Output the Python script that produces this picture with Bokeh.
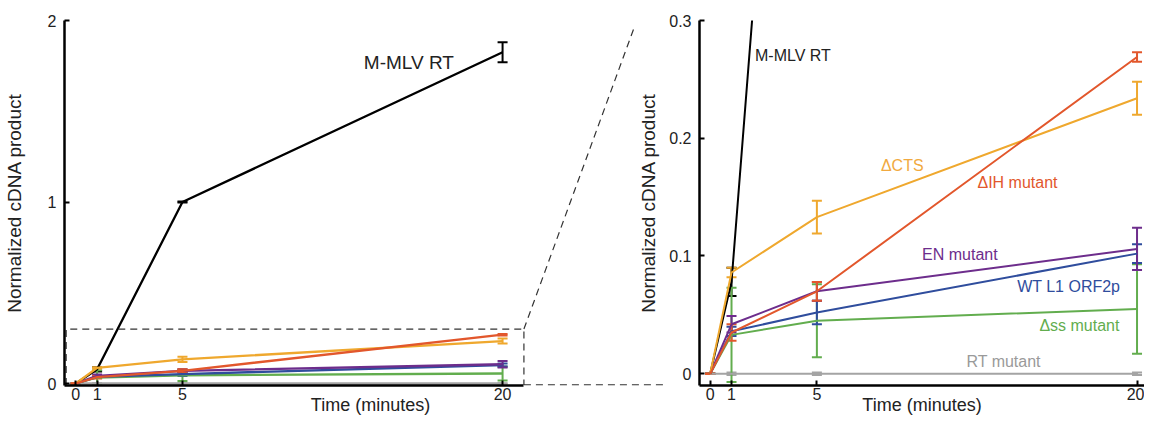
from bokeh.plotting import figure
from bokeh.layouts import row
from bokeh.models import ColumnDataSource, Whisker, TeeHead, FixedTicker, Range1d
from bokeh.embed import file_html
from bokeh.resources import INLINE
from bokeh.core.properties import value

# ---------------- data ----------------
TIME = [0, 1, 5, 20]
TIME_TICKS = [0, 1, 5, 20]
LEFT_Y_TICKS = [0, 1, 2]
LEFT_Y_LABELS = ["0", "1", "2"]
RIGHT_Y_TICKS = [0, 0.1, 0.2, 0.3]
RIGHT_Y_LABELS = ["0", "0.1", "0.2", "0.3"]

SERIES = ["RT mutant", "M-MLV RT", "\u0394ss mutant", "WT L1 ORF2p",
          "EN mutant", "\u0394CTS", "\u0394IH mutant"]

RT_MEAN = [0.0, 0.0, 0.0, 0.0]
RT_ERR = [0.0, 0.001, 0.001, 0.001]
MMLV_MEAN = [0.0, 0.078, 1.0, 1.825]
MMLV_ERR = [0.0, 0.012, 0.003, 0.055]
SS_MEAN = [0.0, 0.033, 0.045, 0.055]
SS_ERR = [0.0, 0.040, 0.031, 0.038]
WT_MEAN = [0.0, 0.036, 0.052, 0.102]
WT_ERR = [0.0, 0.004, 0.010, 0.008]
EN_MEAN = [0.0, 0.042, 0.070, 0.106]
EN_ERR = [0.0, 0.007, 0.008, 0.018]
CTS_MEAN = [0.0, 0.086, 0.133, 0.234]
CTS_ERR = [0.0, 0.004, 0.014, 0.014]
IH_MEAN = [0.0, 0.035, 0.070, 0.269]
IH_ERR = [0.0, 0.007, 0.008, 0.004]

MEANS = [RT_MEAN, MMLV_MEAN, SS_MEAN, WT_MEAN, EN_MEAN, CTS_MEAN, IH_MEAN]
ERRS = [RT_ERR, MMLV_ERR, SS_ERR, WT_ERR, EN_ERR, CTS_ERR, IH_ERR]

# ---------------- styles / layout ----------------
COLORS = {
    "RT mutant": "#A4A4A4",
    "M-MLV RT": "#000000",
    "\u0394ss mutant": "#62AD4E",
    "WT L1 ORF2p": "#2F4D9D",
    "EN mutant": "#6D2D8C",
    "\u0394CTS": "#EFA82E",
    "\u0394IH mutant": "#E2572C",
}
TEXT_COLORS = dict(COLORS)
TEXT_COLORS["M-MLV RT"] = "#222222"
TEXT_COLORS["RT mutant"] = "#9A9A9A"
TEXT_COLORS["\u0394CTS"] = "#F1A940"

# right-panel label anchors (x in minutes, y in value units)
RIGHT_LABELS = {
    "M-MLV RT": (2.1, 0.270, "left"),
    "\u0394CTS": (9.0, 0.177, "center"),
    "\u0394IH mutant": (14.4, 0.162, "center"),
    "EN mutant": (11.7, 0.101, "center"),
    "WT L1 ORF2p": (16.8, 0.074, "center"),
    "\u0394ss mutant": (17.3, 0.041, "center"),
    "RT mutant": (13.75, 0.0105, "center"),
}
LEFT_LABEL = ("M-MLV RT", 13.5, 1.767, "left")

FONT = "Liberation Sans"
H = 418
TOP, BOTTOM = 20, 33
WL, WR, OVERLAP = 676, 509, 41

LEFT_X = (-0.528, 28.15)
LEFT_AXIS_END = 21.0
LEFT_Y = (-0.011, 2.0)
RIGHT_X = (-0.5, 20.35)
RIGHT_Y = (-0.010, 0.3)

# zoom box (left panel coords) and connector ends
BOX_X0, BOX_X1 = -0.45, 21.0
BOX_Y0, BOX_Y1 = -0.008, 0.3
CONN_TOP_END = (26.15, 1.956)
CONN_BOT_END_X = 27.7


def style_axes(p, ylabel_standoff):
    for ax in p.axis:
        ax.axis_line_width = 2.5
        ax.axis_line_color = "black"
        ax.major_tick_in = 5
        ax.major_tick_out = 0
        ax.major_tick_line_width = 2
        ax.major_tick_line_color = "black"
        ax.minor_tick_in = 0
        ax.minor_tick_out = 0
        ax.major_label_text_font = FONT
        ax.major_label_text_font_size = "16px"
        ax.major_label_text_color = "#222222"
        ax.axis_label_text_font = FONT
        ax.axis_label_text_font_style = "normal"
        ax.axis_label_text_color = "#222222"
    p.xaxis.major_label_standoff = 2
    p.xaxis.axis_label_standoff = -8
    p.xaxis.axis_label_text_font_size = "18px"
    p.yaxis.major_label_standoff = 8
    p.yaxis.axis_label_standoff = ylabel_standoff
    p.yaxis.axis_label_text_font_size = "19px"
    p.xaxis.ticker = FixedTicker(ticks=TIME_TICKS)


def make_fig(w, xr, yr, left, right):
    p = figure(width=w, height=H, x_range=Range1d(*xr), y_range=Range1d(*yr),
               output_backend="svg", toolbar_location=None,
               min_border_left=left, min_border_right=right,
               min_border_top=TOP, min_border_bottom=BOTTOM)
    p.grid.visible = False
    p.outline_line_color = None
    p.background_fill_color = None
    p.border_fill_color = None
    p.xaxis.axis_label = "Time (minutes)"
    p.yaxis.axis_label = "Normalized cDNA product"
    return p


def draw_series(p, y_top, lw):
    for name, mean, err in zip(SERIES, MEANS, ERRS):
        c = COLORS[name]
        p.line(TIME, mean, line_color=c, line_width=lw)
        xs, up, lo = [], [], []
        for t, m, e in zip(TIME, mean, err):
            if m - e <= y_top:
                xs.append(t)
                up.append(m + e)
                lo.append(m - e)
        src = ColumnDataSource(dict(x=xs, upper=up, lower=lo))
        p.add_layout(Whisker(base="x", upper="upper", lower="lower", source=src,
                             line_color=c, line_width=2,
                             upper_head=TeeHead(size=10, line_color=c, line_width=2),
                             lower_head=TeeHead(size=10, line_color=c, line_width=2)))


# ---------------- left panel ----------------
pl = make_fig(WL, LEFT_X, LEFT_Y, 59, 0)
style_axes(pl, 20)
pl.xaxis.bounds = (LEFT_X[0], LEFT_AXIS_END)
pl.yaxis.ticker = FixedTicker(ticks=LEFT_Y_TICKS)
pl.yaxis.major_label_overrides = {t: l for t, l in zip(LEFT_Y_TICKS, LEFT_Y_LABELS)}
draw_series(pl, LEFT_Y[1], 2.3)

dash = dict(line_color="#333333", line_width=1.2, line_dash="7 5")
pl.line([BOX_X0, BOX_X0, BOX_X1, BOX_X1], [BOX_Y0, BOX_Y1, BOX_Y1, BOX_Y0], **dash)
pl.line([BOX_X1, CONN_TOP_END[0]], [BOX_Y1, CONN_TOP_END[1]], **dash)
pl.line([BOX_X1, CONN_BOT_END_X], [BOX_Y0, BOX_Y0], **dash)

pl.text(x=[LEFT_LABEL[1]], y=[LEFT_LABEL[2]], text=[LEFT_LABEL[0]],
        text_align=LEFT_LABEL[3], text_baseline="middle",
        text_color="#222222", text_font=value(FONT), text_font_size="19px")

# ---------------- right panel ----------------
pr = make_fig(WR, RIGHT_X, RIGHT_Y, 60, 0)
style_axes(pr, 7)
pr.yaxis.ticker = FixedTicker(ticks=RIGHT_Y_TICKS)
pr.yaxis.major_label_overrides = {t: l for t, l in zip(RIGHT_Y_TICKS, RIGHT_Y_LABELS)}
draw_series(pr, RIGHT_Y[1], 2)

lab = ColumnDataSource(dict(
    x=[RIGHT_LABELS[n][0] for n in SERIES],
    y=[RIGHT_LABELS[n][1] for n in SERIES],
    text=SERIES,
    align=[RIGHT_LABELS[n][2] for n in SERIES],
    color=[TEXT_COLORS[n] for n in SERIES],
))
pr.text(x="x", y="y", text="text", source=lab, text_align="align",
        text_baseline="middle", text_color="color",
        text_font=value(FONT), text_font_size="16px")
pr.margin = (0, 0, 0, -OVERLAP)

layout = row(pl, pr, spacing=0)

open("out.html", "w").write(file_html(layout, INLINE))
